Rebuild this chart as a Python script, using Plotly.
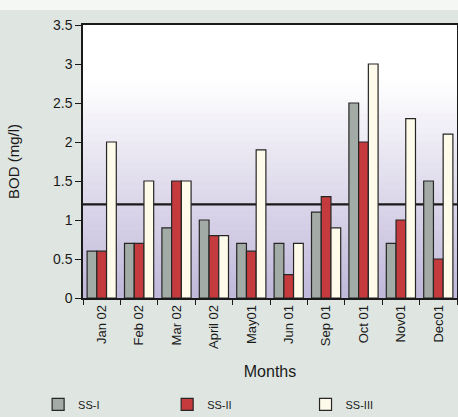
import plotly.graph_objects as go

months = ["Jan 02", "Feb 02", "Mar 02", "April 02", "May01",
          "Jun 01", "Sep 01", "Oct 01", "Nov01", "Dec01"]
ss_1 = [0.6, 0.7, 0.9, 1.0, 0.7, 0.7, 1.1, 2.5, 0.7, 1.5]
ss_2 = [0.6, 0.7, 1.5, 0.8, 0.6, 0.3, 1.3, 2.0, 1.0, 0.5]
ss_3 = [2.0, 1.5, 1.5, 0.8, 1.9, 0.7, 0.9, 3.0, 2.3, 2.1]
series_names = ["SS-I", "SS-II", "SS-III"]
standard_limit = 1.2
y_ticks = [0, 0.5, 1, 1.5, 2, 2.5, 3, 3.5]

colors = ["#a3aba7", "#c53a3d", "#fffbea"]
font = "Liberation Sans, Arial, sans-serif"
legend_ids = ["legend", "legend2", "legend3"]
legend_x = [-0.12, 0.225, 0.595]

fig = go.Figure()
for name, vals, col, lg in zip(series_names, [ss_1, ss_2, ss_3], colors, legend_ids):
    fig.add_trace(go.Bar(
        x=months, y=vals, name=name, legend=lg,
        marker=dict(color=col, line=dict(color="#262626", width=1.2)),
    ))

# vertical gradient behind the bars: white at top fading to lavender
shapes = []
n_bands = 40
top_rgb = (255, 255, 255)
bot_rgb = (192, 184, 218)
for i in range(n_bands):
    t0 = i / n_bands
    t1 = (i + 1) / n_bands
    f = min(1.0, ((t0 + t1) / 2) / 0.8)
    r = int(bot_rgb[0] + (top_rgb[0] - bot_rgb[0]) * f)
    g = int(bot_rgb[1] + (top_rgb[1] - bot_rgb[1]) * f)
    b = int(bot_rgb[2] + (top_rgb[2] - bot_rgb[2]) * f)
    shapes.append(dict(
        type="rect", xref="x domain", yref="y domain",
        x0=0, x1=1, y0=t0, y1=t1 + 0.002,
        fillcolor=f"rgb({r},{g},{b})", line=dict(width=0), layer="below",
    ))

# permissible limit line
shapes.append(dict(
    type="line", xref="x domain", yref="y",
    x0=0, x1=1, y0=standard_limit, y1=standard_limit,
    line=dict(color="#1a1a1a", width=2.2), layer="below",
))

# light strip across the top of the figure
shapes.append(dict(
    type="rect", xref="paper", yref="paper",
    x0=-0.3, x1=1.1, y0=1.055, y1=1.2,
    fillcolor="#f5f7f5", line=dict(width=0), layer="below",
))

legend_style = dict(
    orientation="h", y=-0.39, xanchor="left", yanchor="middle",
    font=dict(size=11, family=font), bgcolor="rgba(0,0,0,0)",
    itemwidth=30,
)

fig.update_layout(
    width=458, height=417,
    margin=dict(l=83, r=1, t=25, b=119, autoexpand=False),
    paper_bgcolor="#dfe6e1",
    plot_bgcolor="rgba(0,0,0,0)",
    barmode="group",
    bargap=0.22,
    bargroupgap=0.0,
    shapes=shapes,
    font=dict(family=font, color="#1a1a1a"),
    showlegend=True,
    legend=dict(x=legend_x[0], **legend_style),
    legend2=dict(x=legend_x[1], **legend_style),
    legend3=dict(x=legend_x[2], **legend_style),
    xaxis=dict(
        tickangle=-90, tickfont=dict(size=13, family=font),
        ticks="outside", tickson="boundaries", ticklen=5, tickcolor="#1a1a1a",
        showline=True, linecolor="#1a1a1a", linewidth=1.5, mirror=True,
        title=dict(text="Months", font=dict(size=16, family=font), standoff=18),
        showgrid=False, automargin=False,
    ),
    yaxis=dict(
        range=[0, 3.5], tickvals=y_ticks,
        ticktext=[("%g" % v) for v in y_ticks],
        tickfont=dict(size=14, family=font),
        ticks="outside", ticklen=6, tickcolor="#1a1a1a",
        showline=True, linecolor="#1a1a1a", linewidth=1.5, mirror=True,
        showgrid=False, zeroline=False, automargin=False,
        title=dict(text="BOD (mg/l)", font=dict(size=15, family=font), standoff=30),
    ),
)

fig.write_html("out.html")
